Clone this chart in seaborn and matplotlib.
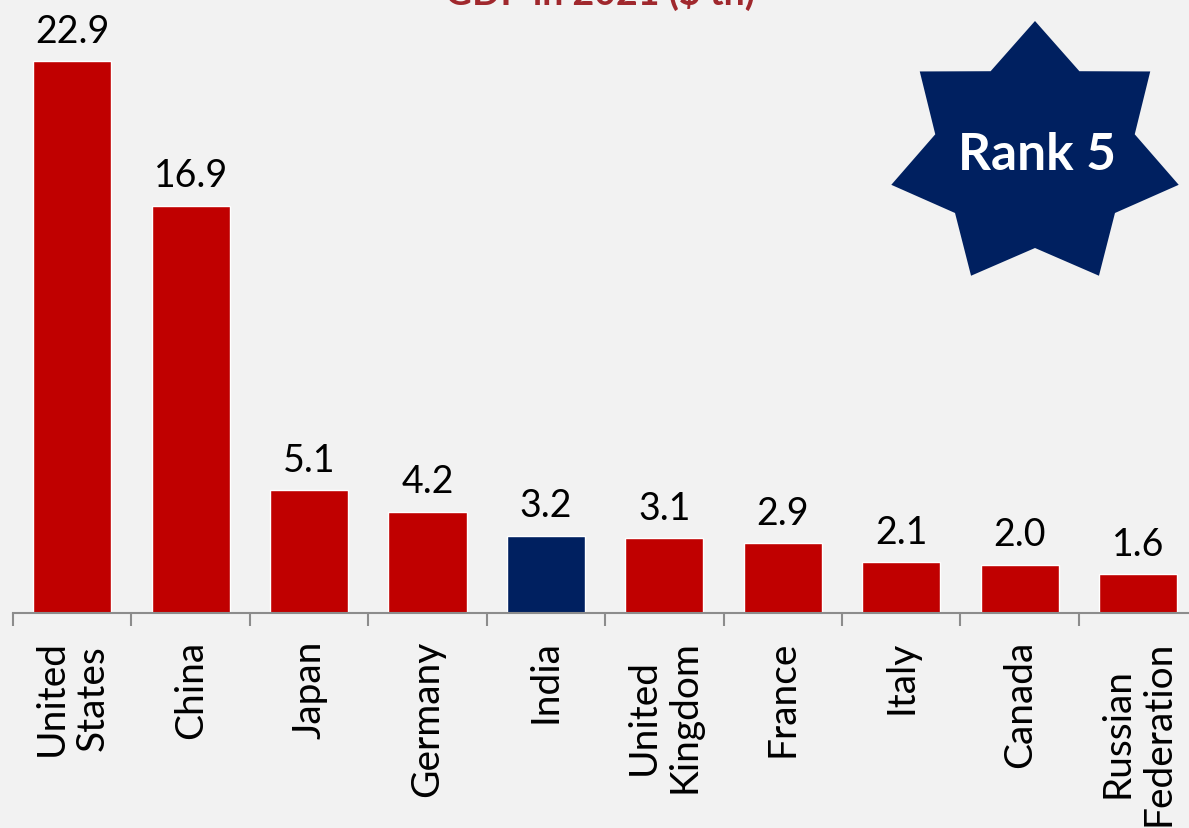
import numpy as np
import matplotlib.pyplot as plt
from matplotlib.patches import Polygon
import seaborn as sns

# Données : PIB 2021 (billions $)
pays = ["United\nStates", "China", "Japan", "Germany", "India",
        "United\nKingdom", "France", "Italy", "Canada", "Russian\nFederation"]
pib = [22.9, 16.9, 5.1, 4.2, 3.2, 3.1, 2.9, 2.1, 2.0, 1.6]
couleurs = ["#C00000"] * 4 + ["#002060"] + ["#C00000"] * 5
titre = "GDP in 2021 ($ tn)"
badge = "Rank 5"

sns.set_theme(style="white", rc={"figure.facecolor": "#F2F2F2", "axes.facecolor": "#F2F2F2"})
plt.rcParams["font.family"] = ["Lato", "DejaVu Sans"]

W, H = 1189, 829
fig = plt.figure(figsize=(W / 100, H / 100), dpi=100)
ax = fig.add_axes([13 / W, 1 - 614 / H, 1 - 13 / W, 614 / H])

sns.barplot(x=list(range(len(pays))), y=pib, hue=list(range(len(pays))),
            palette=couleurs, legend=False, width=0.66, ax=ax, saturation=1)
for c in ax.containers:
    ax.bar_label(c, labels=[f"{v:.1f}" for v in c.datavalues], padding=9,
                 fontsize=27, color="black")

ax.set_xlim(-0.5, 9.43)
ax.set_ylim(0, 614 / 24.1)
ax.set_xticks(np.arange(len(pays)) - 0.5, minor=False)
ax.set_xticklabels([])
ax.set_xticks(np.arange(len(pays)), minor=True)
ax.set_xticklabels(pays, minor=True, rotation=90, ha="center", va="top",
                   multialignment="center", fontsize=28, color="black",
                   linespacing=1.15)
ax.tick_params(axis="x", which="major", length=9.5, width=1.5, color="#8C8C8C", bottom=True)
ax.tick_params(axis="x", which="minor", length=0, pad=19)
ax.set_yticks([])
ax.set_xlabel("")
ax.set_ylabel("")
for s in ["top", "right", "left"]:
    ax.spines[s].set_visible(False)
ax.spines["bottom"].set_color("#8C8C8C")
ax.spines["bottom"].set_linewidth(1.5)

# Titre (coupé en haut, comme l'original)
fig.text(600 / W, 1 - 5 / H, titre, ha="center", va="baseline",
         fontsize=27, fontweight="bold", color="#A0282D")

# Étoile à 7 branches
over = fig.add_axes([0, 0, 1, 1], facecolor="none")
over.set_xlim(0, W)
over.set_ylim(H, 0)
over.axis("off")
cx, cy, R, r = 1035, 156, 134, 93
angles = np.arange(14) * np.pi / 7
rayons = np.where(np.arange(14) % 2 == 0, R, r)
pts = np.column_stack([cx + 1.1 * rayons * np.sin(angles), cy - rayons * np.cos(angles)])
over.add_patch(Polygon(pts, closed=True, facecolor="#002060", edgecolor="none"))
over.text(1037, 155, badge, ha="center", va="center", fontsize=37,
          fontweight="bold", color="white")

fig.savefig("out.png", dpi=100, facecolor=fig.get_facecolor())
